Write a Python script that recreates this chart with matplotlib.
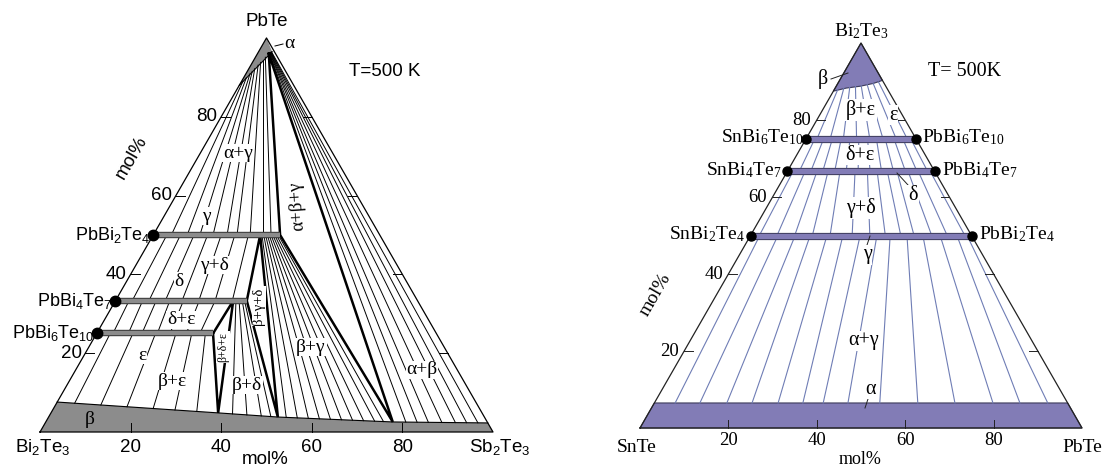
import numpy as np
import matplotlib.pyplot as plt

W, H = 1106, 466
SQ = np.sqrt(3) / 2

SANS = 'Liberation Sans'
SERIF = 'Liberation Serif'

# ---------- left diagram: Bi2Te3 - Sb2Te3 - PbTe, points as (Sb2Te3 mol%, PbTe mol%)
L_alpha = [(0, 100), (0, 88), (3.0, 96.5)]
L_beta = [(0, 0), (0, 7.6), (36.9, 4.85), (50.6, 3.8), (76.6, 2.55), (97.7, 2.3), (100, 0)]
L_bar_pb = [50, 33.3, 25]
L_bar_end = [28, 29, 25.7]
L_bar_names = ['PbBi$\\mathregular{_2}$Te$\\mathregular{_4}$',
               'PbBi$\\mathregular{_4}$Te$\\mathregular{_7}$',
               'PbBi$\\mathregular{_6}$Te$\\mathregular{_{10}}$']
L_tri_abg = [(2.5, 96), (28, 50), (76.6, 2.55)]
L_tri_bgd = [(23.6, 50), (29, 33.3), (50.6, 3.8)]
L_tri_bde = [(25.7, 25), (26, 33.3), (36.9, 4.85)]

# tie lines
L_ag_a = [(0.3, 89.0), (0.6, 89.9), (0.9, 90.9), (1.1, 91.5), (1.3, 92.2), (1.6, 93.1), (1.8, 93.8), (2.0, 94.4), (2.2, 95.1)]
L_ag_g = [4, 7.5, 10.3, 13.2, 16.3, 18.5, 21.4, 24.2, 26]
L_ab_a = [(2.6, 96.1), (2.65, 96.2), (2.7, 96.25), (2.75, 96.3), (2.8, 96.35), (2.85, 96.4), (2.9, 96.45)]
L_ab_b = [(79.5, 2.52), (82, 2.49), (84.5, 2.46), (87.5, 2.42), (90.5, 2.39), (93, 2.36), (95.5, 2.33)]
L_bg_g = [24, 24.4, 24.8, 25.2, 25.6, 26, 26.4, 26.8, 27.2, 27.6]
L_bg_b = [(52.5, 3.71), (55, 3.59), (57.5, 3.47), (60, 3.35), (62.5, 3.23), (65, 3.11),
          (67.5, 2.99), (70, 2.87), (72.5, 2.75), (74.5, 2.65)]
L_bd_d = [26.6, 27.3, 28, 28.5]
L_bd_b = [(40.2, 4.6), (43.5, 4.34), (46.8, 4.09), (49, 3.92)]
L_gd_g = [3, 6, 9, 12, 15, 18, 21]
L_gd_d = [3.7, 7.4, 11, 14.7, 18.4, 22, 25.8]
L_de_d = [3, 6, 9, 12, 15, 18.5, 22]
L_de_e = [3.6, 7, 10, 13.4, 16.2, 19.8, 22.8]
L_be_e = [3, 8, 13, 17.5, 21, 24]
L_be_b = [(4, 7.3), (10, 6.85), (16, 6.4), (22, 5.96), (27, 5.59), (32, 5.22)]

# ---------- right diagram: SnTe - PbTe - Bi2Te3, points as (PbTe mol%, Bi2Te3 mol%)
R_alpha = [(0, 0), (0, 6.5), (93.5, 6.5), (100, 0)]
R_beta = [(0, 100), (0, 87.5), (2.5, 88.3), (5.5, 88.8), (8, 89.5), (9.7, 90.3)]
R_bar_bi = [75, 66.7, 50]
R_left_names = ['SnBi$\\mathregular{_6}$Te$\\mathregular{_{10}}$',
                'SnBi$\\mathregular{_4}$Te$\\mathregular{_7}$',
                'SnBi$\\mathregular{_2}$Te$\\mathregular{_4}$']
R_right_names = ['PbBi$\\mathregular{_6}$Te$\\mathregular{_{10}}$',
                 'PbBi$\\mathregular{_4}$Te$\\mathregular{_7}$',
                 'PbBi$\\mathregular{_2}$Te$\\mathregular{_4}$']
R_ag_top = [2.1, 6.2, 10.1, 13.5, 17.3, 20.9, 24.8, 28.6, 31.6, 35.4, 39, 42.9, 46.7, 49]
R_ag_bot = [4.7, 10.3, 16.4, 22.1, 28, 33.6, 38.2, 43.8, 51, 59.6, 68, 76.6, 82.7, 89]
R_gd_top = [1.3, 4, 6.7, 9.2, 11.9, 15.3, 18.1, 20.3, 22.6, 24.8, 27.3, 29.6, 32.3]
R_gd_bot = [2, 6, 10, 14, 18, 23, 27, 30.5, 34, 37, 41, 44.5, 48.5]
R_de_top = [2, 4, 6, 8, 10, 12, 14, 16, 18, 20, 22, 23.8]
R_de_bot = [2.7, 5.3, 8, 10.7, 13.3, 16, 18.7, 21.3, 24, 26.7, 29.3, 31.7]
R_be_top = [(0.8, 87.8), (2, 88.2), (3.2, 88.5), (4.4, 88.7), (5.6, 88.9), (6.8, 89.2), (8, 89.5), (9, 89.9)]
R_be_bot = [2.5, 5.5, 8.5, 11.5, 14.5, 17.5, 20.5, 23]

ticks = [20, 40, 60, 80]


def tern(a, b):
    a = np.asarray(a, float)
    b = np.asarray(b, float)
    return a + b / 2, b * SQ


def seg(ax, p, q, **kw):
    x, y = tern([p[0], q[0]], [p[1], q[1]])
    ax.plot(x, y, **kw)


def poly(ax, pts, **kw):
    a, b = zip(*pts)
    x, y = tern(a, b)
    ax.fill(x, y, **kw)


def ptext(x, y, s, **kw):
    kw.setdefault('ha', 'center')
    kw.setdefault('va', 'center')
    fig.text(x / W, 1 - y / H, s, **kw)


def pline(x, y, **kw):
    fig.add_artist(plt.Line2D(np.array(x) / W, 1 - np.array(y) / H, **kw))


fig = plt.figure(figsize=(W / 100, H / 100), dpi=100)

# ======================= left =======================
axL = fig.add_axes([0, 0, 0.5, 1])
axL.set_xlim((0 - 40) / 4.53, (553 - 40) / 4.53)
axL.set_ylim((432 - 466) / 4.55, 432 / 4.55)
axL.axis('off')

gray = '#8c8c8c'
thin = dict(color='k', lw=0.7)
thick = dict(color='k', lw=1.8)

poly(axL, L_alpha, color=gray, lw=0)
poly(axL, L_beta, color=gray, lw=0)

for p, g in zip(L_ag_a, L_ag_g):
    seg(axL, p, (g, 50), **thin)
for p, q in zip(L_ab_a, L_ab_b):
    seg(axL, p, q, **thin)
for g, q in zip(L_bg_g, L_bg_b):
    seg(axL, (g, 50), q, **thin)
for d, q in zip(L_bd_d, L_bd_b):
    seg(axL, (d, 33.3), q, **thin)
for g, d in zip(L_gd_g, L_gd_d):
    seg(axL, (g, 50), (d, 33.3), **thin)
for d, e in zip(L_de_d, L_de_e):
    seg(axL, (d, 33.3), (e, 25), **thin)
for e, q in zip(L_be_e, L_be_b):
    seg(axL, (e, 25), q, **thin)

# beta boundary
a, b = zip(*L_beta[1:-1])
axL.plot(*tern(a, b), color='k', lw=0.8)
# alpha boundary
seg(axL, L_alpha[1], L_alpha[2], color='k', lw=0.8)

for tri in (L_tri_abg, L_tri_bgd, L_tri_bde):
    a, b = zip(*(tri + tri[:1]))
    axL.plot(*tern(a, b), color='k', lw=1.8, solid_joinstyle='miter')

# triangle frame
axL.plot(*tern([0, 100, 0, 0], [0, 0, 100, 0]), color='k', lw=0.9)

for pb, end in zip(L_bar_pb, L_bar_end):
    x, y = tern([0, end], [pb, pb])
    axL.plot(x, y, color='#333333', lw=4.6, solid_capstyle='butt')
    axL.plot(x, y, color=gray, lw=3.2, solid_capstyle='butt')
    axL.plot(x[0], y[0], 'o', color='k', ms=7.5)

# ticks
for t in ticks:
    x, y = tern(0, t)
    axL.plot([x, x + 2], [y, y], color='k', lw=0.7)
    axL.text(x - 0.8, y, str(t), ha='right', va='center', fontsize=13.5, family=SANS)
    x, y = tern(100 - t, t)
    axL.plot([x, x - 2], [y, y], color='k', lw=0.7)
    x, y = tern(t, 0)
    axL.plot([x, x], [y, y + 2], color='k', lw=0.7)
    axL.text(x, y - 3.3, str(t), ha='center', va='center', fontsize=13.5, family=SANS)

ptext(267, 22, 'PbTe', fontsize=13.5, family=SANS)
ptext(43, 447, 'Bi$\\mathregular{_2}$Te$\\mathregular{_3}$', fontsize=13.5, family=SANS)
ptext(500, 447, 'Sb$\\mathregular{_2}$Te$\\mathregular{_3}$', fontsize=13.5, family=SANS)
ptext(265, 459, 'mol%', fontsize=13.5, family=SANS)
ptext(132, 158, 'mol%', fontsize=13.5, family=SANS, rotation=60)
ptext(385, 72, 'T=500 K', fontsize=13.5, family=SANS)
ptext(150, 235, L_bar_names[0], ha='right', fontsize=13, family=SANS)
ptext(112, 301, L_bar_names[1], ha='right', fontsize=13, family=SANS)
ptext(94, 333, L_bar_names[2], ha='right', fontsize=13, family=SANS)

box = dict(fc='white', ec='none', pad=0.6)
L_labels = [('α+γ', 238, 153, 0, 14), ('γ', 206, 216, 0, 14), ('γ+δ', 215, 265, 0, 14),
            ('δ', 179, 281, 0, 14), ('δ+ε', 181, 320, 0, 14), ('ε', 142, 355, 0, 14),
            ('β+ε', 172, 381, 0, 14), ('β+δ', 247, 385, 0, 14), ('β+γ', 311, 347, 0, 14),
            ('α+β', 422, 370, 0, 14), ('α+β+γ', 297, 206, 94, 13.5),
            ('β+γ+δ', 259, 306, 90, 10.5), ('β+δ+ε', 223, 347, 90, 8.5)]
for s, x, y, r, fs in L_labels:
    ptext(x, y, s, rotation=r, fontsize=fs, family=SERIF, bbox=box)
ptext(90, 420, 'β', fontsize=14, family=SERIF)
ptext(289, 43, 'α', fontsize=14, family=SERIF)
pline([275, 283], [46, 44], color='k', lw=0.7)

# ======================= right =======================
axR = fig.add_axes([0.5, 0, 0.5, 1])
axR.set_xlim((553 - 640) / 4.42, (1106 - 640) / 4.42)
axR.set_ylim((428 - 466) / 4.445, 428 / 4.445)
axR.axis('off')

purple = '#827cb6'
edge = '#3c3a5a'
blue = '#6f7db5'
rthin = dict(color=blue, lw=0.8)

for t, b in zip(R_ag_top, R_ag_bot):
    seg(axR, (t, 50), (b, 6.5), **rthin)
for t, b in zip(R_gd_top, R_gd_bot):
    seg(axR, (t, 66.7), (b, 50), **rthin)
for t, b in zip(R_de_top, R_de_bot):
    seg(axR, (t, 75), (b, 66.7), **rthin)
for p, b in zip(R_be_top, R_be_bot):
    seg(axR, p, (b, 75), **rthin)

poly(axR, R_alpha, fc=purple, ec=edge, lw=0.8)
poly(axR, R_beta, fc=purple, ec=edge, lw=0.8)
axR.plot(*tern([0, 100, 0, 0], [0, 0, 100, 0]), color='#222222', lw=0.9)

for bi in R_bar_bi:
    x, y = tern([0, 100 - bi], [bi, bi])
    axR.plot(x, y, color=edge, lw=5.2, solid_capstyle='butt')
    axR.plot(x, y, color=purple, lw=3.8, solid_capstyle='butt')
    axR.plot(x, y, 'o', color='k', ms=6.5)

for t in ticks:
    x, y = tern(0, t)
    axR.plot([x, x + 1.9], [y, y], color='#222222', lw=0.7)
    axR.text(x - 1.2, y, str(t), ha='right', va='center', fontsize=13.5, family=SERIF)
    x, y = tern(100 - t, t)
    axR.plot([x, x - 1.9], [y, y], color='#222222', lw=0.7)
    x, y = tern(t, 0)
    axR.plot([x, x], [y, y + 1.7], color='#222222', lw=0.7)
    axR.text(x, y - 2.7, str(t), ha='center', va='center', fontsize=13.5, family=SERIF)

ptext(861, 31, 'Bi$\\mathregular{_2}$Te$\\mathregular{_3}$', fontsize=14, family=SERIF)
ptext(637, 448, 'SnTe', fontsize=14, family=SERIF)
ptext(1082, 448, 'PbTe', fontsize=14, family=SERIF)
ptext(860, 459, 'mol%', fontsize=13, family=SERIF)
ptext(655, 295, 'mol%', fontsize=14, family=SERIF, rotation=60)
ptext(965, 71, 'T= 500K', fontsize=14.5, family=SERIF)
for name, y in zip(R_left_names, [137, 170, 234]):
    pass
ptext(803, 137, R_left_names[0], ha='right', fontsize=14, family=SERIF)
ptext(782, 170, R_left_names[1], ha='right', fontsize=14, family=SERIF)
ptext(745, 234, R_left_names[2], ha='right', fontsize=14, family=SERIF)
ptext(922, 137, R_right_names[0], ha='left', fontsize=14, family=SERIF)
ptext(942, 170, R_right_names[1], ha='left', fontsize=14, family=SERIF)
ptext(979, 234, R_right_names[2], ha='left', fontsize=14, family=SERIF)

R_labels = [('β+ε', 861, 110), ('ε', 893, 115), ('δ+ε', 860, 155), ('δ', 913, 195),
            ('γ+δ', 861, 208), ('γ', 867, 255), ('α+γ', 864, 341), ('α', 871, 389)]
for s, x, y in R_labels:
    ptext(x, y, s, fontsize=14.5, family=SERIF, bbox=box)
ptext(823, 79, 'β', fontsize=14.5, family=SERIF)
pline([831, 848], [79, 73], color='#222222', lw=0.7)
pline([897, 908], [173, 185], color='#222222', lw=0.7)
pline([870, 867], [236, 245], color='#222222', lw=0.7)
pline([868, 865], [399, 408], color='#222222', lw=0.7)

fig.savefig('out.png', dpi=100)
